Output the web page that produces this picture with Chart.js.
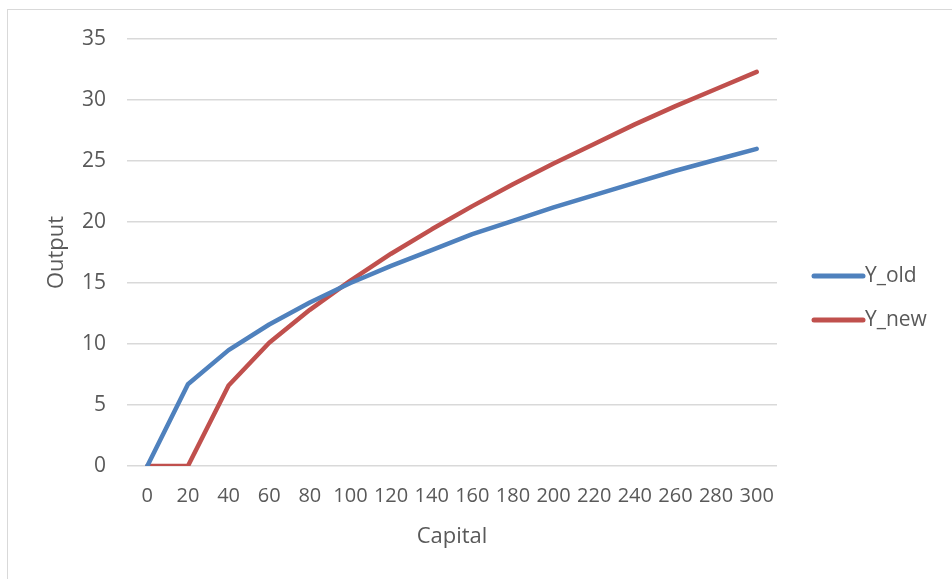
<!DOCTYPE html>
<html>
<head>
<meta charset="utf-8">
<script src="https://cdn.jsdelivr.net/npm/chart.js@4/dist/chart.umd.min.js"></script>
<style>
  html, body { margin: 0; padding: 0; background: #ffffff; overflow: hidden; }
  #wrap { position: relative; width: 952px; height: 579px; }
  #frame { position: absolute; left: 7px; top: 9px; width: 1000px; height: 600px;
           border: 1.5px solid #d9d9d9; pointer-events: none; box-sizing: border-box; }
  canvas { position: absolute; left: 0; top: 0; }
</style>
</head>
<body>
<div id="wrap">
  <canvas id="chart" width="952" height="579"></canvas>
  <div id="frame"></div>
</div>
<script>
// Capital stock (x categories)
const capital = [0, 20, 40, 60, 80, 100, 120, 140, 160, 180, 200, 220, 240, 260, 280, 300];
// Output under the old and new production functions
const yOld = [0, 6.7, 9.5, 11.6, 13.4, 15.0, 16.4, 17.7, 19.0, 20.1, 21.2, 22.2, 23.2, 24.2, 25.1, 26.0];
const yNew = [0, 0, 6.6, 10.1, 12.8, 15.2, 17.4, 19.4, 21.3, 23.1, 24.8, 26.4, 28.0, 29.5, 30.9, 32.3];
const seriesNames = ['Y_old', 'Y_new'];
const seriesColors = ['#4f81bd', '#c0504d'];
const yTicks = [0, 5, 10, 15, 20, 25, 30, 35];

const FONT = '"Open Sans", "DejaVu Sans", sans-serif';
const TEXT = '#595959';

// Line-style legend drawn to the right of the plot
const lineLegend = {
  id: 'lineLegend',
  afterDraw(chart) {
    const ctx = chart.ctx;
    const area = chart.chartArea;
    const x0 = area.right + 37;
    const len = 49;
    const gap = 44;
    const yStart = 276;
    ctx.save();
    chart.data.datasets.forEach((ds, i) => {
      const y = yStart + i * gap;
      ctx.strokeStyle = ds.borderColor;
      ctx.lineWidth = 5;
      ctx.lineCap = 'round';
      ctx.beginPath();
      ctx.moveTo(x0, y);
      ctx.lineTo(x0 + len, y);
      ctx.stroke();
      ctx.fillStyle = TEXT;
      ctx.font = '21px ' + FONT;
      ctx.textBaseline = 'middle';
      ctx.textAlign = 'left';
      ctx.fillText(ds.label, x0 + len + 2, y);
    });
    ctx.restore();
  }
};

new Chart(document.getElementById('chart'), {
  type: 'line',
  data: {
    labels: capital,
    datasets: [
      { label: seriesNames[0], data: yOld, borderColor: seriesColors[0], backgroundColor: seriesColors[0] },
      { label: seriesNames[1], data: yNew, borderColor: seriesColors[1], backgroundColor: seriesColors[1] }
    ]
  },
  options: {
    responsive: false,
    animation: false,
    devicePixelRatio: 1,
    layout: { padding: { left: 44, right: 175, top: 39, bottom: 29 } },
    elements: {
      point: { radius: 0, hoverRadius: 0 },
      line: { borderWidth: 4.5, tension: 0, borderCapStyle: 'round', borderJoinStyle: 'round' }
    },
    plugins: {
      legend: { display: false },
      tooltip: { enabled: false }
    },
    scales: {
      x: {
        type: 'category',
        offset: true,
        grid: { display: false, drawTicks: false },
        border: { display: false },
        ticks: {
          color: TEXT, font: { family: FONT, size: 20 },
          padding: 18, maxRotation: 0, minRotation: 0, autoSkip: false
        },
        title: {
          display: true, text: 'Capital', color: TEXT,
          font: { family: FONT, size: 22 }, padding: 0
        },
        afterFit(scale) { scale.height = 579 - 29 - 466; }
      },
      y: {
        min: 0, max: 35,
        afterBuildTicks(scale) { scale.ticks = yTicks.map(v => ({ value: v })); },
        grid: { color: '#d9d9d9', lineWidth: 1.5, drawTicks: false },
        border: { display: false },
        ticks: { color: TEXT, font: { family: FONT, size: 21 }, padding: 21 },
        title: {
          display: true, text: 'Output', color: TEXT,
          font: { family: FONT, size: 22 }, padding: 0
        },
        afterFit(scale) { scale.width = 127 - 44; }
      }
    }
  },
  plugins: [lineLegend]
});
</script>
</body>
</html>
